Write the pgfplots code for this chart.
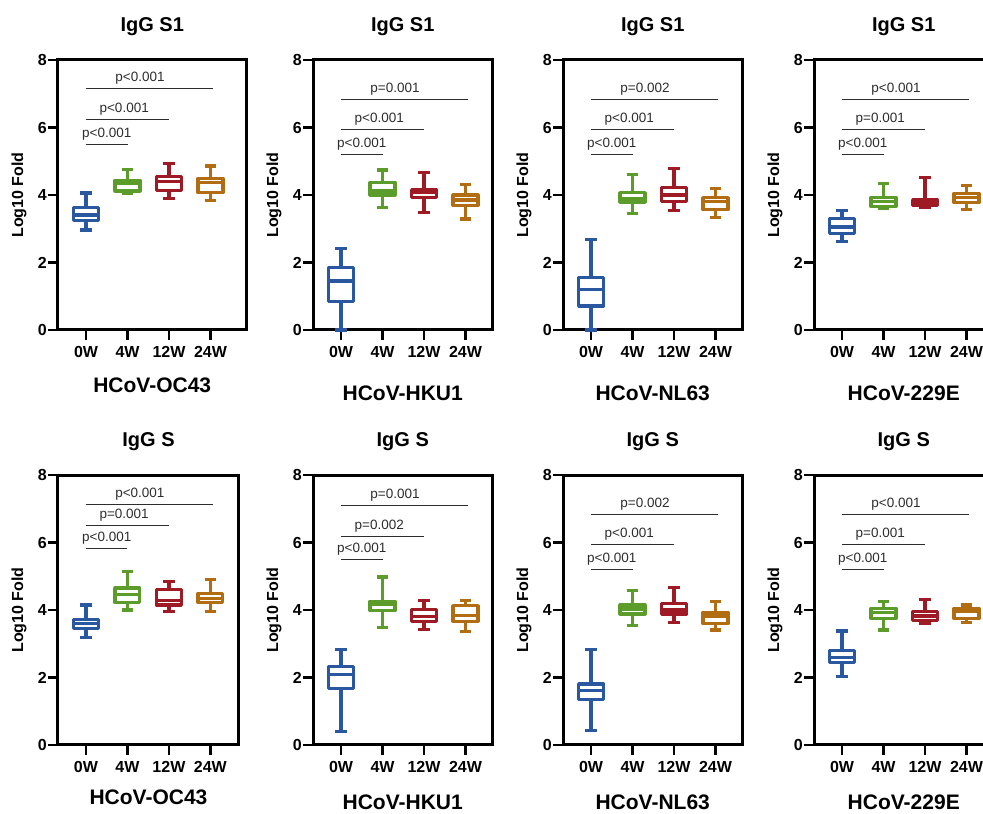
\documentclass[border=0pt]{standalone}
\usepackage{fontspec}
\setmainfont{Liberation Sans}
\usepackage{pgfplots}
\pgfplotsset{compat=1.18}
\usepgfplotslibrary{statistics}

\definecolor{cB}{RGB}{42,88,160}
\definecolor{cG}{RGB}{92,156,42}
\definecolor{cR}{RGB}{158,26,36}
\definecolor{cO}{RGB}{178,108,18}
\definecolor{sigc}{RGB}{45,45,45}

\pgfplotsset{
  panel/.style={
    scale only axis, width=179.5pt, height=270pt,
    anchor=south west, clip=false,
    xmin=0.325, xmax=4.65, ymin=0, ymax=8,
    xtick={1,2,3,4}, xticklabels={0W,4W,12W,24W},
    ytick={0,2,4,6,8},
    xtick pos=left, ytick pos=left,
    major tick length=0pt, tick style={draw=none},
    axis line style={line width=3pt, black},
    /pgf/number format/assume math mode=true,
    ticklabel style={font=\bfseries\fontsize{16}{19}\selectfont},
    xticklabel style={anchor=base, yshift=-28pt},
    yticklabel style={anchor=east, xshift=-10pt, inner sep=1pt},
    title style={at={(axis description cs:0.5,1.0815)}, anchor=base, font=\bfseries\fontsize{20}{24}\selectfont},
    xlabel style={at={(axis description cs:0.5,-0.2593)}, anchor=base, font=\bfseries\fontsize{21}{25}\selectfont},
    ylabel style={at={(axis description cs:-0.2173,0.5)}, anchor=center, font=\bfseries\fontsize{16}{19}\selectfont},
    ylabel={Log10 Fold},
    boxplot/draw direction=y,
    boxplot/box extend=0.6,
    boxplot/whisker extend=0.28,
  },
  boxst/.style={solid, line width=3.2pt, fill=white, line join=round, mark=none},
}
\tikzset{
  sigline/.style={draw=sigc, line width=1pt},
  sigtext/.style={anchor=base, yshift=7pt, inner sep=0pt, text=sigc, font=\fontsize{13.5}{16}\selectfont},
  tickst/.style={draw=black, line width=2.6pt},
}

% \bx{position}{lower whisker}{q1}{median}{q3}{upper whisker}{colour}
\newcommand{\bx}[7]{%
  \addplot[boxst, draw=#7, boxplot prepared={draw position=#1,
    lower whisker=#2, lower quartile=#3, median=#4,
    upper quartile=#5, upper whisker=#6}] coordinates {};}
% \sig{y1}{y2}{y3}{t1}{t2}{t3}
\newcommand{\sig}[6]{%
  \draw[sigline] (axis cs:1,#1) -- (axis cs:2,#1);
  \draw[sigline] (axis cs:1,#2) -- (axis cs:3,#2);
  \draw[sigline] (axis cs:1,#3) -- (axis cs:4.07,#3);
  \node[sigtext] at (axis cs:1.5,#1) {#4};
  \node[sigtext] at (axis cs:1.92,#2) {#5};
  \node[sigtext] at (axis cs:2.3,#3) {#6};}
% outward tick marks (10 px long, in data units)
\newcommand{\tk}{%
  \draw[tickst] (axis cs:1,0) -- (axis cs:1,-0.296);
  \draw[tickst] (axis cs:2,0) -- (axis cs:2,-0.296);
  \draw[tickst] (axis cs:3,0) -- (axis cs:3,-0.296);
  \draw[tickst] (axis cs:4,0) -- (axis cs:4,-0.296);
  \draw[tickst] (axis cs:0.325,0) -- (axis cs:0.084,0);
  \draw[tickst] (axis cs:0.325,2) -- (axis cs:0.084,2);
  \draw[tickst] (axis cs:0.325,4) -- (axis cs:0.084,4);
  \draw[tickst] (axis cs:0.325,6) -- (axis cs:0.084,6);
  \draw[tickst] (axis cs:0.325,8) -- (axis cs:0.084,8);}

\begin{document}
\begin{tikzpicture}[x=1pt,y=1pt]
\useasboundingbox (0,0) rectangle (983,814);
\clip (0,0) rectangle (983,814);

% ---------- Row 1 ----------
\begin{axis}[panel, at={(58pt,484pt)}, width=188.5pt, xmax=4.867,
  ylabel style={at={(axis description cs:-0.207,0.5)}},
  xlabel style={at={(axis description cs:0.5,-0.2333)}},
  title={IgG S1}, xlabel={HCoV-OC43}]
\tk
\bx{1}{2.96}{3.25}{3.41}{3.62}{4.06}{cB}
\bx{2}{4.05}{4.12}{4.33}{4.44}{4.76}{cG}
\bx{3}{3.90}{4.13}{4.40}{4.54}{4.94}{cR}
\bx{4}{3.83}{4.07}{4.37}{4.49}{4.86}{cO}
\sig{5.51}{6.25}{7.15}{p<0.001}{p<0.001}{p<0.001}
\end{axis}

\begin{axis}[panel, at={(313pt,484pt)}, title={IgG S1}, xlabel={HCoV-HKU1}]
\tk
\bx{1}{0}{0.84}{1.45}{1.86}{2.42}{cB}
\bx{2}{3.62}{4.00}{4.12}{4.37}{4.74}{cG}
\bx{3}{3.49}{3.92}{4.07}{4.15}{4.67}{cR}
\bx{4}{3.29}{3.70}{3.85}{4.00}{4.30}{cO}
\sig{5.21}{5.93}{6.84}{p<0.001}{p<0.001}{p=0.001}
\end{axis}

\begin{axis}[panel, at={(563pt,484pt)}, title={IgG S1}, xlabel={HCoV-NL63}]
\tk
\bx{1}{0}{0.71}{1.21}{1.55}{2.69}{cB}
\bx{2}{3.46}{3.78}{3.88}{4.07}{4.61}{cG}
\bx{3}{3.54}{3.80}{4.00}{4.23}{4.79}{cR}
\bx{4}{3.34}{3.56}{3.80}{3.92}{4.20}{cO}
\sig{5.21}{5.93}{6.84}{p<0.001}{p<0.001}{p=0.002}
\end{axis}

\begin{axis}[panel, at={(814pt,484pt)}, title={IgG S1}, xlabel={HCoV-229E}]
\tk
\bx{1}{2.62}{2.85}{3.05}{3.30}{3.53}{cB}
\bx{2}{3.60}{3.66}{3.80}{3.93}{4.35}{cG}
\bx{3}{3.62}{3.70}{3.78}{3.85}{4.52}{cR}
\bx{4}{3.56}{3.77}{3.93}{4.05}{4.28}{cO}
\sig{5.19}{5.93}{6.84}{p<0.001}{p=0.001}{p<0.001}
\end{axis}

% ---------- Row 2 ----------
\begin{axis}[panel, at={(58pt,69pt)}, width=181pt, xmax=4.69,
  ylabel style={at={(axis description cs:-0.2155,0.5)}},
  xlabel style={at={(axis description cs:0.5,-0.222)}},
  title={IgG S}, xlabel={HCoV-OC43}]
\tk
\bx{1}{3.18}{3.45}{3.60}{3.72}{4.15}{cB}
\bx{2}{4.00}{4.22}{4.45}{4.65}{5.15}{cG}
\bx{3}{3.95}{4.15}{4.28}{4.60}{4.85}{cR}
\bx{4}{3.95}{4.22}{4.35}{4.49}{4.91}{cO}
\sig{5.81}{6.51}{7.13}{p<0.001}{p=0.001}{p<0.001}
\end{axis}

\begin{axis}[panel, at={(313pt,69pt)}, xlabel style={at={(axis description cs:0.5,-0.2407)}},
  title={IgG S}, xlabel={HCoV-HKU1}]
\tk
\bx{1}{0.39}{1.67}{2.09}{2.32}{2.83}{cB}
\bx{2}{3.49}{3.98}{4.18}{4.26}{4.98}{cG}
\bx{3}{3.42}{3.65}{3.80}{4.01}{4.29}{cR}
\bx{4}{3.37}{3.67}{3.83}{4.13}{4.29}{cO}
\sig{5.49}{6.19}{7.09}{p<0.001}{p=0.002}{p=0.001}
\end{axis}

\begin{axis}[panel, at={(563pt,69pt)}, xlabel style={at={(axis description cs:0.5,-0.2407)}},
  title={IgG S}, xlabel={HCoV-NL63}]
\tk
\bx{1}{0.42}{1.35}{1.62}{1.81}{2.83}{cB}
\bx{2}{3.53}{3.88}{4.03}{4.15}{4.57}{cG}
\bx{3}{3.64}{3.88}{4.00}{4.20}{4.66}{cR}
\bx{4}{3.41}{3.60}{3.82}{3.93}{4.24}{cO}
\sig{5.21}{5.93}{6.84}{p<0.001}{p<0.001}{p=0.002}
\end{axis}

\begin{axis}[panel, at={(814pt,69pt)}, xlabel style={at={(axis description cs:0.5,-0.2407)}},
  title={IgG S}, xlabel={HCoV-229E}]
\tk
\bx{1}{2.02}{2.44}{2.60}{2.81}{3.38}{cB}
\bx{2}{3.41}{3.75}{3.92}{4.05}{4.25}{cG}
\bx{3}{3.60}{3.70}{3.82}{3.95}{4.30}{cR}
\bx{4}{3.62}{3.75}{3.95}{4.05}{4.15}{cO}
\sig{5.21}{5.93}{6.84}{p<0.001}{p=0.001}{p<0.001}
\end{axis}
\end{tikzpicture}
\end{document}
